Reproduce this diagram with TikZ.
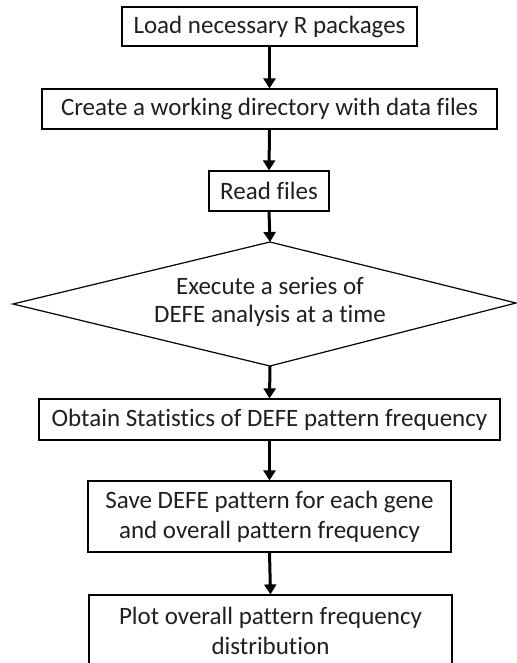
\documentclass[tikz,border=0pt]{standalone}
\usepackage{fontspec}
\setmainfont{Carlito}[Ligatures=NoCommon]
\usetikzlibrary{arrows.meta}
\begin{document}
\begin{tikzpicture}[x=1pt,y=-1pt,
  stepbox/.style={draw=black, line width=1.2pt, inner sep=0pt, align=center,
    font=\fontsize{25}{30}\selectfont, text=black!88},
  flow/.style={line width=3pt, -{Triangle[width=12pt,length=10pt]}}]
\useasboundingbox (0,0) rectangle (516,663);
\node[stepbox, minimum width=295, minimum height=39] (b1) at (269.5,26.5) {Load necessary R packages};
\node[stepbox, minimum width=455, minimum height=40] (b2) at (269.5,109) {Create a working directory with data files};
\node[stepbox, minimum width=120, minimum height=40] (b3) at (269,191) {Read files};
\coordinate (dtop) at (270,242);
\coordinate (dleft) at (13,304);
\coordinate (dright) at (516,303);
\coordinate (dbot) at (270,366);
\draw[line width=1.2pt, line join=miter] (dtop) -- (dright) -- (dbot) -- (dleft) -- cycle;
\node[align=center, inner sep=0pt, font=\fontsize{25}{28}\selectfont, text=black!88] (d) at (270,302) {Execute a series of\\DEFE analysis at a time};
\node[stepbox, minimum width=461, minimum height=41] (b5) at (269.5,419.5) {Obtain Statistics of DEFE pattern frequency};
\node[stepbox, minimum width=363, minimum height=71] (b6) at (269.5,516.5) {Save DEFE pattern for each gene\\and overall pattern frequency};
\node[stepbox, minimum width=363, minimum height=71] (b7) at (270.5,630.5) {Plot overall pattern frequency\\distribution};
\draw[flow] (b1.south) -- (b2.north);
\draw[flow] (b2.south) -- (b3.north);
\draw[flow] (b3.south) -- (dtop);
\draw[flow] (dbot) -- (b5.north);
\draw[flow] (b5.south) -- (b6.north);
\draw[flow] (b6.south) -- (b7.north);
\end{tikzpicture}
\end{document}
